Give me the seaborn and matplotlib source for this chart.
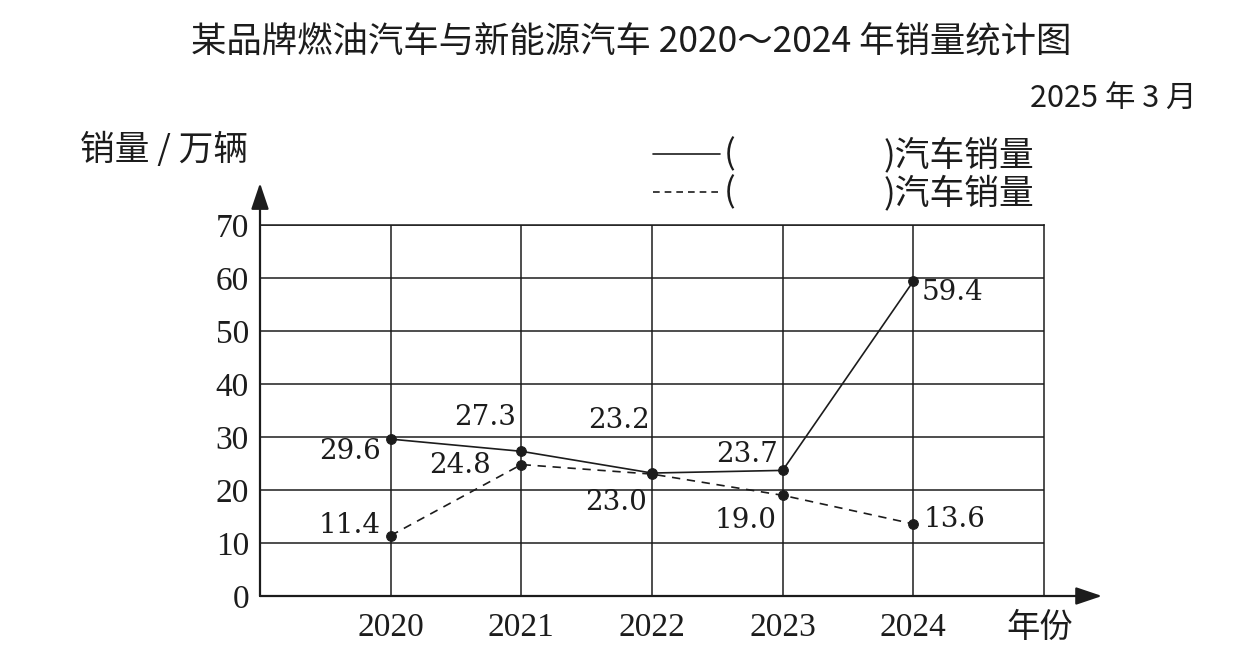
import matplotlib
matplotlib.use("Agg")
import matplotlib.pyplot as plt
from matplotlib.lines import Line2D
import seaborn as sns
import pandas as pd

# data
years = [2020, 2021, 2022, 2023, 2024]
solid_sales = [29.6, 27.3, 23.2, 23.7, 59.4]    # 实线
dashed_sales = [11.4, 24.8, 23.0, 19.0, 13.6]   # 虚线
y_ticks = [0, 10, 20, 30, 40, 50, 60, 70]

title = "某品牌燃油汽车与新能源汽车 2020～2024 年销量统计图"
date_note = "2025 年 3 月"
y_title = "销量 / 万辆"
x_title = "年份"
legend_tail = ")汽车销量"

# label offsets (pixels) from each point, and alignment
solid_offsets = [(-10, -12, "right"), (-5, 34, "right"), (-2, 53, "right"),
                 (-5, 16, "right"), (8, -11, "left")]
dashed_offsets = [(-10, 10, "right"), (-30, -1, "right"), (-5, -28, "right"),
                  (-6, -25, "right"), (10, 4, "left")]

sns.set_style("white")
plt.rcParams['font.family'] = ['Noto Sans CJK SC', 'DejaVu Sans']

ink = "#1c1c1c"
W, H = 1246, 658
fig = plt.figure(figsize=(W / 100, H / 100), dpi=100)
ax = fig.add_axes([260 / W, 62 / H, 784 / W, 371 / H])

df = pd.DataFrame({"year": years, "solid": solid_sales, "dashed": dashed_sales})
sns.lineplot(data=df, x="year", y="solid", ax=ax, color=ink, linewidth=1.2,
             marker="o", markersize=7, markeredgecolor=ink)
sns.lineplot(data=df, x="year", y="dashed", ax=ax, color=ink, linewidth=1.2,
             linestyle=(0, (5, 4)), marker="o", markersize=7, markeredgecolor=ink)

ax.set_xlim(years[0] - 1, years[-1] + 1)
ax.set_ylim(y_ticks[0], y_ticks[-1])
ax.set_xticks(years)
ax.set_xticklabels([str(y) for y in years], fontfamily="Liberation Serif", fontsize=24, color=ink)
ax.set_yticks(y_ticks)
ax.set_yticklabels([str(t) for t in y_ticks], fontfamily="Liberation Serif", fontsize=24, color=ink)
ax.tick_params(axis="both", length=0)
ax.tick_params(axis="x", pad=12)
ax.tick_params(axis="y", pad=8)
ax.set_xlabel("")
ax.set_ylabel("")
ax.grid(True, color=ink, linewidth=1.1)
for s in ax.spines.values():
    s.set_color(ink)
    s.set_linewidth(1.1)

# the two axis arrows
arrow = dict(arrowstyle="-|>,head_length=0.8,head_width=0.27", lw=1.6, color=ink,
             shrinkA=0, shrinkB=0, mutation_scale=20)
ax.annotate("", xy=(1.074, 0), xytext=(0, 0), xycoords="axes fraction",
            arrowprops=arrow, annotation_clip=False)
ax.annotate("", xy=(0, 1.113), xytext=(0, 0), xycoords="axes fraction",
            arrowprops=arrow, annotation_clip=False)

# value labels
for vals, offs in ((solid_sales, solid_offsets), (dashed_sales, dashed_offsets)):
    for yr, v, (dx, dy, ha) in zip(years, vals, offs):
        ax.annotate(f"{v:.1f}", xy=(yr, v), xytext=(dx, dy), textcoords="offset pixels",
                    ha=ha, va="center", fontsize=20, fontfamily="DejaVu Serif", color=ink)

# texts around the chart
fig.text(631 / W, 1 - 42 / H, title, ha="center", va="center", fontsize=25.5, color=ink)
fig.text(1197 / W, 1 - 98 / H, date_note, ha="right", va="center", fontsize=22, color=ink)
fig.text(80 / W, 1 - 150 / H, y_title, ha="left", va="center", fontsize=25, color=ink)
fig.text(1040 / W, 1 - 627 / H, x_title, ha="center", va="center", fontsize=24, color=ink)

# hand-made legend
for row_y, ls in ((154, "-"), (192, (0, (4, 3)))):
    fig.add_artist(Line2D([653 / W, 720 / W], [1 - row_y / H, 1 - row_y / H],
                          color=ink, linewidth=1.2, linestyle=ls))
    fig.text(724 / W, 1 - (row_y + 1) / H, "(", ha="left", va="center", fontsize=25, color=ink)
    fig.text(884 / W, 1 - (row_y + 1) / H, legend_tail, ha="left", va="center", fontsize=25, color=ink)

fig.savefig("out.png", dpi=100, facecolor="white")
